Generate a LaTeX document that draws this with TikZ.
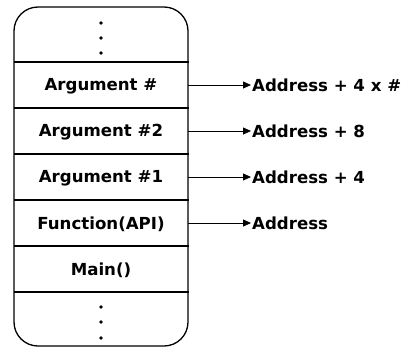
\documentclass[tikz,border=0pt]{standalone}
\usepackage{fontspec}
\setmainfont{DejaVu Sans}
\usetikzlibrary{arrows.meta}
\begin{document}
\begin{tikzpicture}[x=1pt,y=-1pt,
  cell/.style={font=\bfseries\fontsize{16.6}{19}\selectfont, anchor=center},
  addr/.style={font=\bfseries\fontsize{16.6}{19}\selectfont, anchor=west, inner sep=1pt},
  link/.style={draw, line width=0.8pt, -{Triangle[length=8pt,width=7pt]}},
  frame/.style={draw, line width=1.3pt},
  dot/.style={circle, fill, inner sep=0pt, minimum size=3.6pt}]
\useasboundingbox (0,0) rectangle (411,351);
% stack outline with rounded top and bottom
\draw[frame, rounded corners=24pt] (14,7) rectangle (188,346);
% row separators
\foreach \y in {62,108,154,200,246,292} \draw[frame] (14,\y) -- (189,\y);
% ellipsis dots
\foreach \y [count=\i] in {23,38,53} \node[dot] (t\i) at (101,\y) {};
\foreach \y [count=\i] in {307,322,338} \node[dot] (b\i) at (101,\y) {};
% stack cells
\node[cell] (argn) at (101,86) {Argument \#};
\node[cell] (arg2) at (101,132) {Argument \#2};
\node[cell] (arg1) at (101,178) {Argument \#1};
\node[cell] (func) at (101,224) {Function(API)};
\node[cell] (main) at (101,270) {Main()};
% edge anchors on the right side of the stack
\coordinate (en) at (188,85);
\coordinate (e2) at (188,131);
\coordinate (e1) at (188,177);
\coordinate (ef) at (188,223);
% address labels
\node[addr] (an) at (251,85) {Address + 4 x \#};
\node[addr] (a2) at (251,131) {Address + 8};
\node[addr] (a1) at (251,177) {Address + 4};
\node[addr] (af) at (251,223) {Address};
\draw[link] (en) -- (an.west);
\draw[link] (e2) -- (a2.west);
\draw[link] (e1) -- (a1.west);
\draw[link] (ef) -- (af.west);
\end{tikzpicture}
\end{document}
